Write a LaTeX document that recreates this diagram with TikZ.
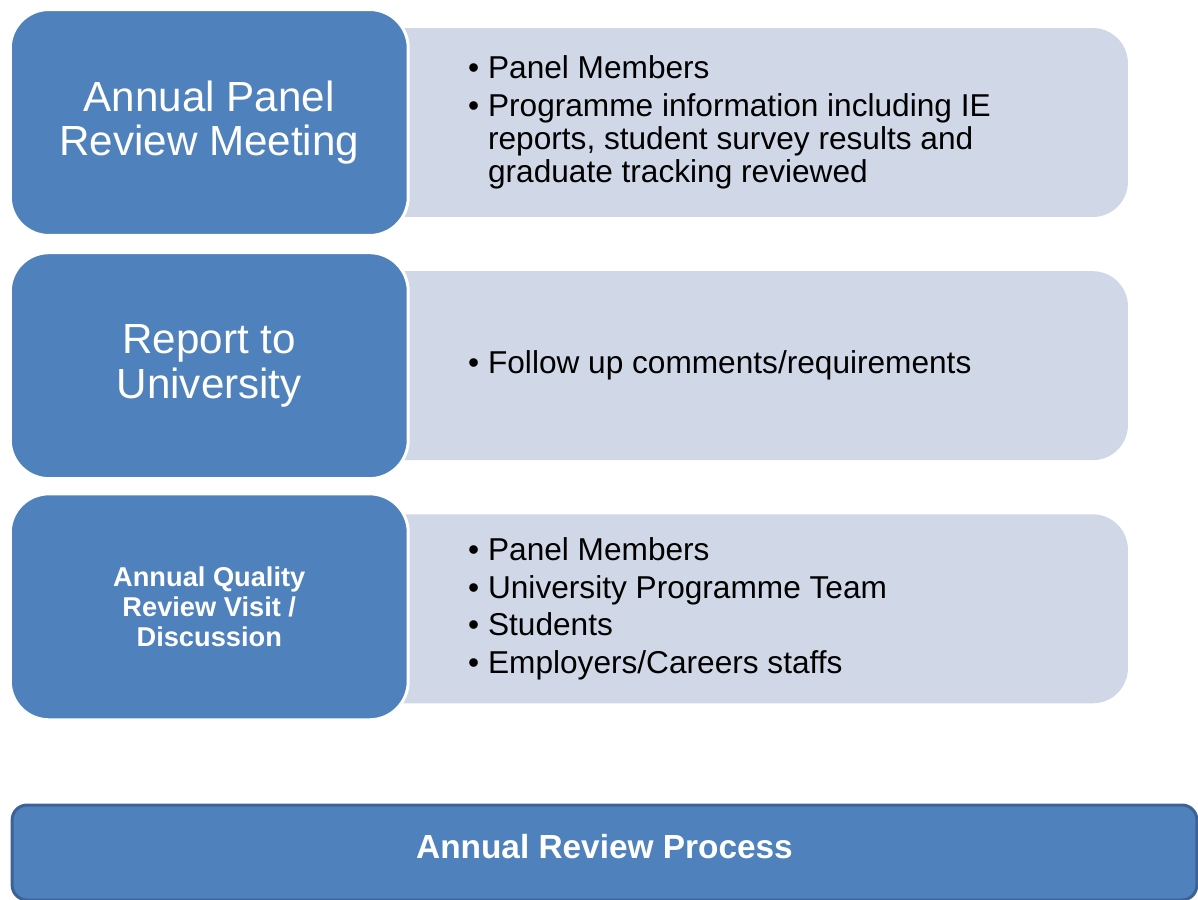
\documentclass[tikz,border=0pt]{standalone}
\usepackage{fontspec}
\setmainfont{Liberation Sans}
\usetikzlibrary{positioning}

\definecolor{stageblue}{HTML}{4F81BD}
\definecolor{detailgrey}{HTML}{D0D8E8}
\definecolor{baredge}{HTML}{3C6296}

% bullet and hanging indent for the item lists
\newcommand{\bul}{\makebox[11.4pt][l]{\textbullet}}
\newcommand{\ind}{\hspace*{11.4pt}}

\begin{document}
\begin{tikzpicture}[
  x=0.02cm, y=-0.02cm,
  stage/.style={draw=white, line width=1.7pt, fill=stageblue, rounded corners=22pt,
                minimum width=7.96cm, minimum height=4.52cm, text=white,
                align=center, font=\fontsize{24}{25.5}\selectfont},
  detail/.style={fill=detailgrey, rounded corners=20pt,
                 minimum width=15.36cm, minimum height=3.78cm},
  items/.style={anchor=west, inner sep=0pt, align=left,
                font=\fontsize{18}{19}\selectfont},
  bar/.style={draw=baredge, line width=1.7pt, fill=stageblue, rounded corners=8.5pt,
              minimum width=23.7cm, minimum height=1.9cm, text=white, text depth=6.8pt,
              font=\bfseries\fontsize{19}{22}\selectfont}
]
\clip (0,0) rectangle (1198,900);

\node[detail] (det1) at (744,122.5) {};
\node[detail, below=1.07cm of det1] (det2) {};
\node[detail, below=1.07cm of det2] (det3) {};

\node[stage, left=-1cm of det1] (meet)   {Annual Panel\\Review Meeting};
\node[stage, left=-1cm of det2] (report) {Report to\\University};
\node[stage, left=-1cm of det3, yshift=0.04cm, font=\bfseries\fontsize{15.5}{17}\selectfont] (visit)
  {Annual Quality\\Review Visit /\\Discussion};

\node[items] (meetlist) at ([xshift=1.16cm]meet.east)
  {\bul Panel Members\\[2.5pt]
   \bul Programme information including IE\\
   \ind reports, student survey results and\\
   \ind graduate tracking reviewed};
\node[items] (reportlist) at ([xshift=1.16cm]report.east)
  {\bul Follow up comments/requirements};
\node[items] (visitlist) at ([xshift=1.16cm, yshift=-0.04cm]visit.east)
  {\bul Panel Members\\[2.5pt]
   \bul University Programme Team\\[2.5pt]
   \bul Students\\[2.5pt]
   \bul Employers/Careers staffs};

\node[bar] (proc) at (604.5,852.5) {Annual Review Process};

\end{tikzpicture}
\end{document}
